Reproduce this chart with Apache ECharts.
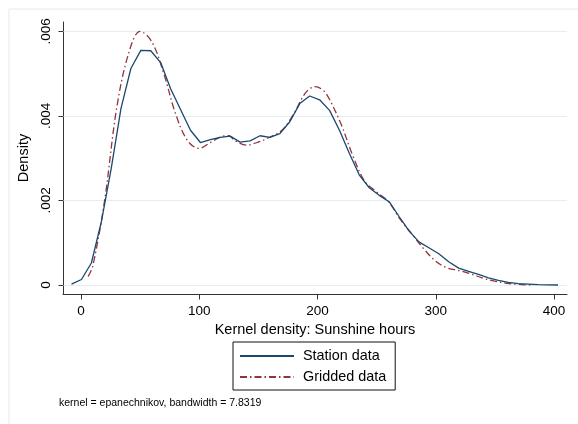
<!DOCTYPE html>
<html>
<head>
<meta charset="utf-8">
<script src="https://cdn.jsdelivr.net/npm/echarts@6/dist/echarts.min.js"></script>
<style>
  html, body { margin: 0; padding: 0; background: #ffffff; }
  #chart { width: 578px; height: 424px; }
</style>
</head>
<body>
<div id="chart"></div>
<script>
// Kernel density estimates of sunshine hours (density values in units of 0.001)
const stationX = [-8, 0.4, 8.8, 17.2, 25.6, 33.8, 42.2, 50.6, 59, 67.4, 75.8, 84.2, 92.6, 101,
  109.4, 117.8, 126.2, 134.6, 143, 151.4, 159.8, 168.2, 176.6, 185, 193.4, 201.8, 210.2, 218.6,
  227, 235.4, 243.8, 252.2, 260.6, 269, 277.4, 285.8, 294.2, 302.6, 311, 319.4, 327.8, 336.2,
  344.6, 353, 361.4, 369.8, 378.2, 386.6, 395, 403.4];
const stationDensity = [0.02, 0.13, 0.52, 1.49, 2.76, 4.17, 5.12, 5.55, 5.54, 5.26, 4.64, 4.15,
  3.66, 3.37, 3.44, 3.49, 3.52, 3.38, 3.41, 3.53, 3.49, 3.58, 3.86, 4.29, 4.47, 4.38, 4.13, 3.66,
  3.11, 2.6, 2.3, 2.12, 1.97, 1.62, 1.28, 1.02, 0.88, 0.74, 0.55, 0.40, 0.32, 0.25, 0.17, 0.11,
  0.06, 0.03, 0.02, 0.01, 0.005, 0.0];

const griddedX = [6, 10, 20, 30, 40, 50, 60, 70, 80, 90, 100, 110, 120, 125, 130, 140, 150, 160,
  170, 180, 190, 198, 205, 210, 220, 230, 240, 250, 260, 270, 280, 290, 300, 310, 320, 330, 340,
  350, 360, 370, 380];
const griddedDensity = [0.2, 0.45, 2.0, 4.15, 5.45, 6.0, 5.75, 5.0, 4.05, 3.42, 3.23, 3.38, 3.52,
  3.53, 3.42, 3.31, 3.38, 3.5, 3.66, 4.05, 4.55, 4.69, 4.6, 4.4, 3.8, 3.05, 2.45, 2.2, 1.97, 1.55,
  1.2, 0.85, 0.56, 0.40, 0.34, 0.26, 0.16, 0.09, 0.04, 0.015, 0.0];

const xTicks = [0, 100, 200, 300, 400];
const yTicks = [0, 2, 4, 6];
const yTickLabels = ['0', '.002', '.004', '.006'];
const seriesNames = ['Station data', 'Gridded data'];
const xTitle = 'Kernel density: Sunshine hours';
const yTitle = 'Density';
const noteText = 'kernel = epanechnikov, bandwidth = 7.8319';

const FONT = '"Liberation Sans", Arial, Helvetica, sans-serif';
const NAVY = '#1a476f';
const MAROON = '#90353b';
const AXIS = '#333333';
const X_MIN = -15.2, X_MAX = 411;
const Y_MIN = -0.213, Y_MAX = 6.22;
const TICK_LEN = 5;

const pair = (xs, ys) => xs.map((x, i) => [x, ys[i]]);

// Short outward tick marks; each item sits on the axis line, placed with api.coord
function tickSeries(values, vertical) {
  return {
    type: 'custom',
    coordinateSystem: 'cartesian2d',
    silent: true,
    clip: false,
    z: 10,
    data: values.map(v => (vertical ? [X_MIN, v] : [v, Y_MIN])),
    encode: { x: 0, y: 1 },
    renderItem: (params, api) => {
      const p = api.coord([api.value(0), api.value(1)]);
      const x = Math.round(p[0]) + 0.5;
      const y = Math.round(p[1]) + 0.5;
      return {
        type: 'line',
        shape: vertical
          ? { x1: x - TICK_LEN, y1: y, x2: x, y2: y }
          : { x1: x, y1: y, x2: x, y2: y + TICK_LEN },
        style: { stroke: AXIS, lineWidth: 1, fill: null }
      };
    }
  };
}

const chart = echarts.init(document.getElementById('chart'), null, { renderer: 'canvas' });

chart.setOption({
  animation: false,
  backgroundColor: '#ffffff',
  textStyle: { fontFamily: FONT },
  grid: { left: 63, right: 11, top: 22, bottom: 130, containLabel: false },
  xAxis: {
    type: 'value',
    min: X_MIN,
    max: X_MAX,
    name: xTitle,
    nameLocation: 'middle',
    nameGap: 26,
    nameTextStyle: { fontSize: 14.5, color: '#000', fontFamily: FONT },
    axisLine: { show: true, onZero: false, lineStyle: { color: AXIS, width: 1 } },
    axisTick: { show: false },
    axisLabel: { color: '#000', fontSize: 13.5, margin: 10, fontFamily: FONT, customValues: xTicks },
    splitLine: { show: false }
  },
  yAxis: {
    type: 'value',
    min: Y_MIN,
    max: Y_MAX,
    name: yTitle,
    nameLocation: 'middle',
    nameGap: 28,
    nameTextStyle: { fontSize: 14.5, color: '#000', fontFamily: FONT },
    axisLine: { show: true, onZero: false, lineStyle: { color: AXIS, width: 1 } },
    axisTick: { show: false },
    axisLabel: {
      color: '#000', fontSize: 13.5, margin: 10, rotate: 90, fontFamily: FONT,
      customValues: yTicks,
      formatter: v => yTickLabels[yTicks.indexOf(Math.round(v))] ?? ''
    },
    splitLine: { show: false }
  },
  legend: {
    orient: 'vertical',
    left: 233,
    top: 342,
    itemWidth: 54,
    itemHeight: 10,
    itemGap: 7,
    padding: [7, 9, 6, 6],
    borderColor: '#111',
    borderWidth: 1,
    backgroundColor: '#fff',
    itemStyle: { color: 'rgba(0,0,0,0)', borderWidth: 0, opacity: 0 },
    textStyle: { fontSize: 14.4, color: '#000', fontFamily: FONT, padding: [0, 0, 0, 4] },
    data: seriesNames
  },
  graphic: [
    {
      type: 'rect',
      left: 6.5, top: 6.5,
      shape: { width: 600, height: 600 },
      style: { fill: 'none', stroke: '#e3eaee', lineWidth: 1 },
      silent: true, z: -1
    },
    {
      type: 'text',
      left: 59, top: 398,
      style: { text: noteText, fontSize: 10.5, fill: '#000', fontFamily: FONT }
    }
  ],
  series: [
    {
      name: seriesNames[0],
      type: 'line',
      data: pair(stationX, stationDensity),
      showSymbol: false,
      symbol: 'none',
      lineStyle: { color: NAVY, width: 1.3 },
      itemStyle: { color: NAVY },
      z: 3,
      markLine: {
        silent: true,
        symbol: 'none',
        label: { show: false },
        lineStyle: { color: '#e4edf1', width: 1, type: 'solid' },
        data: yTicks.map(v => ({ yAxis: v })),
        z: 1
      }
    },
    {
      name: seriesNames[1],
      type: 'line',
      data: pair(griddedX, griddedDensity),
      showSymbol: false,
      symbol: 'none',
      smooth: 0.35,
      lineStyle: { color: MAROON, width: 1.3, type: [7, 3, 1.5, 3] },
      itemStyle: { color: MAROON },
      z: 2
    },
    tickSeries(xTicks, false),
    tickSeries(yTicks, true)
  ]
});
</script>
</body>
</html>
